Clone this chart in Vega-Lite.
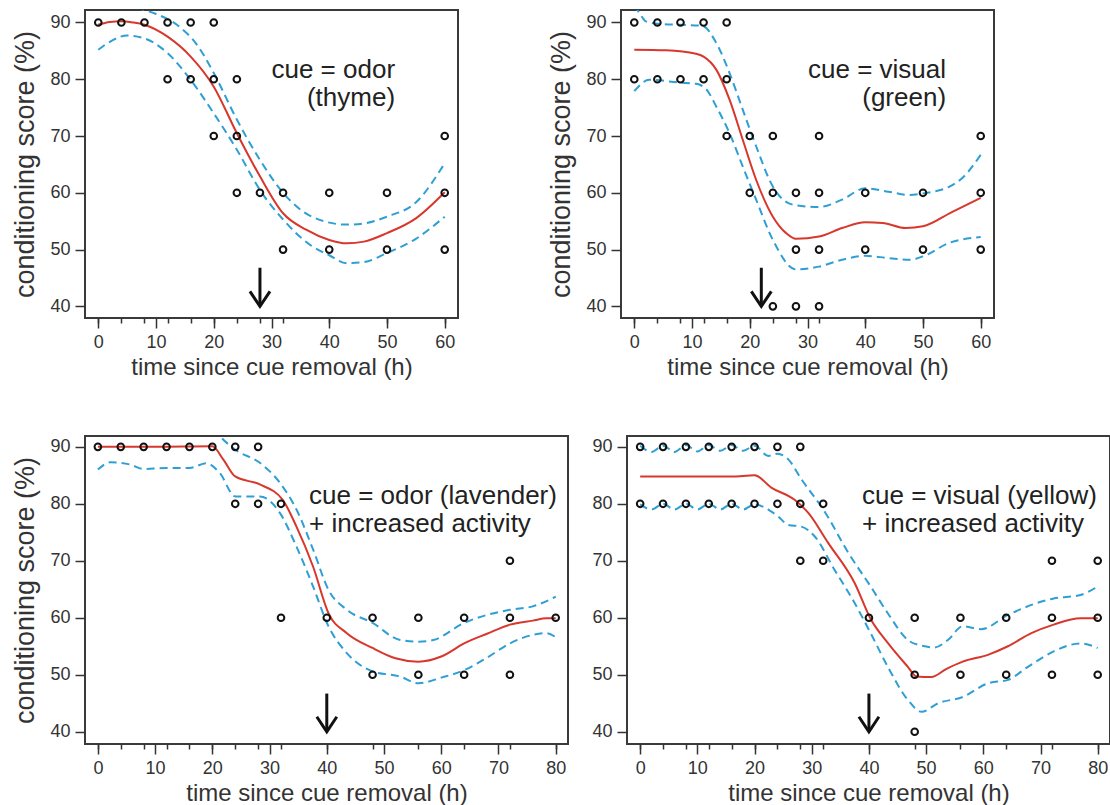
{
  "$schema": "https://vega.github.io/schema/vega-lite/v6.json",
  "padding": {"left": 10, "top": 9, "right": 0, "bottom": 0},
  "background": "white",
  "config": {
    "font": "Liberation Sans",
    "view": {"stroke": "#3a3a3a", "strokeWidth": 2},
    "axis": {"labelFont": "Liberation Sans", "titleFont": "Liberation Sans", "labelFontSize": 18, "labelColor": "#333", "titleFontWeight": "normal", "titleColor": "#333", "tickColor": "#333", "tickWidth": 1.5, "grid": false, "domain": false},
    "axisX": {"titleFontSize": 24, "titlePadding": 4, "labelPadding": 5, "labelFlush": false},
    "axisY": {"titleFontSize": 27, "titlePadding": 10, "labelPadding": 5}
  },
  "datasets": {
    "pts": [
      {"p":1,"t":0,"s":90},{"p":1,"t":4,"s":90},{"p":1,"t":8,"s":90},{"p":1,"t":12,"s":90},{"p":1,"t":16,"s":90},{"p":1,"t":20,"s":90},
      {"p":1,"t":12,"s":80},{"p":1,"t":16,"s":80},{"p":1,"t":20,"s":80},{"p":1,"t":24,"s":80},
      {"p":1,"t":20,"s":70},{"p":1,"t":24,"s":70},{"p":1,"t":60,"s":70},
      {"p":1,"t":24,"s":60},{"p":1,"t":28,"s":60},{"p":1,"t":32,"s":60},{"p":1,"t":40,"s":60},{"p":1,"t":50,"s":60},{"p":1,"t":60,"s":60},
      {"p":1,"t":32,"s":50},{"p":1,"t":40,"s":50},{"p":1,"t":50,"s":50},{"p":1,"t":60,"s":50},
      {"p":2,"t":0,"s":90},{"p":2,"t":4,"s":90},{"p":2,"t":8,"s":90},{"p":2,"t":12,"s":90},{"p":2,"t":16,"s":90},
      {"p":2,"t":0,"s":80},{"p":2,"t":4,"s":80},{"p":2,"t":8,"s":80},{"p":2,"t":12,"s":80},{"p":2,"t":16,"s":80},
      {"p":2,"t":16,"s":70},{"p":2,"t":20,"s":70},{"p":2,"t":24,"s":70},{"p":2,"t":32,"s":70},{"p":2,"t":60,"s":70},
      {"p":2,"t":20,"s":60},{"p":2,"t":24,"s":60},{"p":2,"t":28,"s":60},{"p":2,"t":32,"s":60},{"p":2,"t":40,"s":60},{"p":2,"t":50,"s":60},{"p":2,"t":60,"s":60},
      {"p":2,"t":28,"s":50},{"p":2,"t":32,"s":50},{"p":2,"t":40,"s":50},{"p":2,"t":50,"s":50},{"p":2,"t":60,"s":50},
      {"p":2,"t":24,"s":40},{"p":2,"t":28,"s":40},{"p":2,"t":32,"s":40},
      {"p":3,"t":0,"s":90},{"p":3,"t":4,"s":90},{"p":3,"t":8,"s":90},{"p":3,"t":12,"s":90},{"p":3,"t":16,"s":90},{"p":3,"t":20,"s":90},{"p":3,"t":24,"s":90},{"p":3,"t":28,"s":90},
      {"p":3,"t":24,"s":80},{"p":3,"t":28,"s":80},{"p":3,"t":32,"s":80},
      {"p":3,"t":72,"s":70},
      {"p":3,"t":32,"s":60},{"p":3,"t":40,"s":60},{"p":3,"t":48,"s":60},{"p":3,"t":56,"s":60},{"p":3,"t":64,"s":60},{"p":3,"t":72,"s":60},{"p":3,"t":80,"s":60},
      {"p":3,"t":48,"s":50},{"p":3,"t":56,"s":50},{"p":3,"t":64,"s":50},{"p":3,"t":72,"s":50},
      {"p":4,"t":0,"s":90},{"p":4,"t":4,"s":90},{"p":4,"t":8,"s":90},{"p":4,"t":12,"s":90},{"p":4,"t":16,"s":90},{"p":4,"t":20,"s":90},{"p":4,"t":24,"s":90},{"p":4,"t":28,"s":90},
      {"p":4,"t":0,"s":80},{"p":4,"t":4,"s":80},{"p":4,"t":8,"s":80},{"p":4,"t":12,"s":80},{"p":4,"t":16,"s":80},{"p":4,"t":20,"s":80},{"p":4,"t":24,"s":80},{"p":4,"t":28,"s":80},{"p":4,"t":32,"s":80},
      {"p":4,"t":28,"s":70},{"p":4,"t":32,"s":70},{"p":4,"t":72,"s":70},{"p":4,"t":80,"s":70},
      {"p":4,"t":40,"s":60},{"p":4,"t":48,"s":60},{"p":4,"t":56,"s":60},{"p":4,"t":64,"s":60},{"p":4,"t":72,"s":60},{"p":4,"t":80,"s":60},
      {"p":4,"t":48,"s":50},{"p":4,"t":56,"s":50},{"p":4,"t":64,"s":50},{"p":4,"t":72,"s":50},{"p":4,"t":80,"s":50},
      {"p":4,"t":48,"s":40}
    ],
    "crv": [
      {"p":1,"k":"fit","t":0,"s":89.6},{"p":1,"k":"fit","t":2,"s":90.1},{"p":1,"k":"fit","t":4,"s":90.2},{"p":1,"k":"fit","t":6,"s":90.0},{"p":1,"k":"fit","t":8,"s":89.6},{"p":1,"k":"fit","t":12,"s":87.5},{"p":1,"k":"fit","t":16,"s":84},{"p":1,"k":"fit","t":20,"s":78.7},{"p":1,"k":"fit","t":24,"s":70.5},{"p":1,"k":"fit","t":28,"s":62.9},{"p":1,"k":"fit","t":32,"s":56.4},{"p":1,"k":"fit","t":36,"s":53.5},{"p":1,"k":"fit","t":40,"s":51.7},{"p":1,"k":"fit","t":43,"s":51.1},{"p":1,"k":"fit","t":46,"s":51.4},{"p":1,"k":"fit","t":50,"s":52.9},{"p":1,"k":"fit","t":55,"s":55.5},{"p":1,"k":"fit","t":60,"s":60.1},
      {"p":1,"k":"upper","t":0,"s":94},{"p":1,"k":"upper","t":4,"s":93},{"p":1,"k":"upper","t":8,"s":92.2},{"p":1,"k":"upper","t":10,"s":91.5},{"p":1,"k":"upper","t":14,"s":89.3},{"p":1,"k":"upper","t":17,"s":86.2},{"p":1,"k":"upper","t":20,"s":81.1},{"p":1,"k":"upper","t":24,"s":72.9},{"p":1,"k":"upper","t":28,"s":65.8},{"p":1,"k":"upper","t":32,"s":60},{"p":1,"k":"upper","t":37,"s":55.8},{"p":1,"k":"upper","t":43,"s":54.4},{"p":1,"k":"upper","t":46,"s":54.6},{"p":1,"k":"upper","t":50,"s":55.8},{"p":1,"k":"upper","t":55,"s":58.3},{"p":1,"k":"upper","t":60,"s":65.2},
      {"p":1,"k":"lower","t":0,"s":85.2},{"p":1,"k":"lower","t":2,"s":86.6},{"p":1,"k":"lower","t":5,"s":87.7},{"p":1,"k":"lower","t":8,"s":87.2},{"p":1,"k":"lower","t":12,"s":84.6},{"p":1,"k":"lower","t":16,"s":79.9},{"p":1,"k":"lower","t":20,"s":74},{"p":1,"k":"lower","t":24,"s":67.6},{"p":1,"k":"lower","t":28,"s":60.5},{"p":1,"k":"lower","t":32,"s":55.3},{"p":1,"k":"lower","t":37,"s":50.6},{"p":1,"k":"lower","t":40,"s":49},{"p":1,"k":"lower","t":43,"s":47.6},{"p":1,"k":"lower","t":46,"s":47.8},{"p":1,"k":"lower","t":50,"s":49.4},{"p":1,"k":"lower","t":55,"s":51.9},{"p":1,"k":"lower","t":60,"s":55.8},
      {"p":2,"k":"fit","t":0,"s":85.2},{"p":2,"k":"fit","t":5.5,"s":85.1},{"p":2,"k":"fit","t":10.7,"s":84.5},{"p":2,"k":"fit","t":12,"s":84},{"p":2,"k":"fit","t":14.2,"s":81.7},{"p":2,"k":"fit","t":16.5,"s":76.4},{"p":2,"k":"fit","t":18.8,"s":69.3},{"p":2,"k":"fit","t":21.1,"s":62.3},{"p":2,"k":"fit","t":24,"s":55.8},{"p":2,"k":"fit","t":26.3,"s":52.9},{"p":2,"k":"fit","t":28,"s":51.9},{"p":2,"k":"fit","t":32,"s":52.3},{"p":2,"k":"fit","t":36,"s":53.8},{"p":2,"k":"fit","t":40,"s":54.8},{"p":2,"k":"fit","t":43,"s":54.7},{"p":2,"k":"fit","t":47,"s":53.8},{"p":2,"k":"fit","t":50,"s":54.1},{"p":2,"k":"fit","t":55,"s":56.6},{"p":2,"k":"fit","t":60,"s":59.1},
      {"p":2,"k":"upper","t":0,"s":93},{"p":2,"k":"upper","t":1,"s":91.5},{"p":2,"k":"upper","t":2,"s":90.2},{"p":2,"k":"upper","t":5,"s":89.7},{"p":2,"k":"upper","t":8,"s":89.6},{"p":2,"k":"upper","t":11.8,"s":89.4},{"p":2,"k":"upper","t":14.2,"s":86.4},{"p":2,"k":"upper","t":16.5,"s":81.1},{"p":2,"k":"upper","t":18.8,"s":74.6},{"p":2,"k":"upper","t":21.1,"s":68.2},{"p":2,"k":"upper","t":24,"s":61.1},{"p":2,"k":"upper","t":27.5,"s":57.9},{"p":2,"k":"upper","t":32,"s":57.5},{"p":2,"k":"upper","t":36,"s":58.8},{"p":2,"k":"upper","t":40,"s":60.8},{"p":2,"k":"upper","t":44,"s":60.2},{"p":2,"k":"upper","t":47.7,"s":59.6},{"p":2,"k":"upper","t":50,"s":59.9},{"p":2,"k":"upper","t":54.6,"s":61.1},{"p":2,"k":"upper","t":57,"s":62.8},{"p":2,"k":"upper","t":60,"s":66.7},
      {"p":2,"k":"lower","t":0,"s":77.9},{"p":2,"k":"lower","t":2.6,"s":79.9},{"p":2,"k":"lower","t":8,"s":79.4},{"p":2,"k":"lower","t":10.7,"s":79.2},{"p":2,"k":"lower","t":12.5,"s":78.2},{"p":2,"k":"lower","t":14.2,"s":75.2},{"p":2,"k":"lower","t":16.5,"s":70.5},{"p":2,"k":"lower","t":18.8,"s":64.6},{"p":2,"k":"lower","t":21.1,"s":58.8},{"p":2,"k":"lower","t":24,"s":51.7},{"p":2,"k":"lower","t":28,"s":46.5},{"p":2,"k":"lower","t":32,"s":47},{"p":2,"k":"lower","t":36,"s":48.2},{"p":2,"k":"lower","t":40,"s":48.9},{"p":2,"k":"lower","t":44,"s":48.5},{"p":2,"k":"lower","t":47.7,"s":48.2},{"p":2,"k":"lower","t":50,"s":48.8},{"p":2,"k":"lower","t":54.6,"s":51.2},{"p":2,"k":"lower","t":60,"s":52.2},
      {"p":3,"k":"fit","t":0,"s":90},{"p":3,"k":"fit","t":10,"s":90},{"p":3,"k":"fit","t":20,"s":90.1},{"p":3,"k":"fit","t":21.9,"s":87.8},{"p":3,"k":"fit","t":24,"s":84.8},{"p":3,"k":"fit","t":28.3,"s":83.4},{"p":3,"k":"fit","t":32.3,"s":80.7},{"p":3,"k":"fit","t":34.7,"s":76},{"p":3,"k":"fit","t":37.6,"s":69},{"p":3,"k":"fit","t":40.3,"s":60.8},{"p":3,"k":"fit","t":43.5,"s":57.3},{"p":3,"k":"fit","t":48,"s":54.7},{"p":3,"k":"fit","t":52,"s":52.9},{"p":3,"k":"fit","t":56,"s":52.3},{"p":3,"k":"fit","t":60,"s":53.2},{"p":3,"k":"fit","t":64,"s":55.5},{"p":3,"k":"fit","t":68,"s":57.2},{"p":3,"k":"fit","t":72,"s":58.8},{"p":3,"k":"fit","t":76,"s":59.5},{"p":3,"k":"fit","t":78.4,"s":59.9},{"p":3,"k":"fit","t":80,"s":59.9},
      {"p":3,"k":"upper","t":0,"s":94},{"p":3,"k":"upper","t":18,"s":94},{"p":3,"k":"upper","t":20,"s":93.5},{"p":3,"k":"upper","t":21.3,"s":91.9},{"p":3,"k":"upper","t":24,"s":89.5},{"p":3,"k":"upper","t":28.3,"s":87.2},{"p":3,"k":"upper","t":31.8,"s":83.7},{"p":3,"k":"upper","t":34.7,"s":79},{"p":3,"k":"upper","t":37.6,"s":72},{"p":3,"k":"upper","t":40.3,"s":64.9},{"p":3,"k":"upper","t":43.5,"s":61.4},{"p":3,"k":"upper","t":48,"s":59.1},{"p":3,"k":"upper","t":52.8,"s":56.1},{"p":3,"k":"upper","t":56,"s":55.8},{"p":3,"k":"upper","t":58.6,"s":56.1},{"p":3,"k":"upper","t":64,"s":59.1},{"p":3,"k":"upper","t":72,"s":61.4},{"p":3,"k":"upper","t":76,"s":62},{"p":3,"k":"upper","t":80,"s":63.7},
      {"p":3,"k":"lower","t":0,"s":86},{"p":3,"k":"lower","t":2.2,"s":87.3},{"p":3,"k":"lower","t":5.6,"s":86.9},{"p":3,"k":"lower","t":8,"s":86.1},{"p":3,"k":"lower","t":12,"s":86.3},{"p":3,"k":"lower","t":16,"s":86.3},{"p":3,"k":"lower","t":19,"s":87.1},{"p":3,"k":"lower","t":21.3,"s":85.4},{"p":3,"k":"lower","t":24,"s":81.3},{"p":3,"k":"lower","t":28.3,"s":81.3},{"p":3,"k":"lower","t":31.8,"s":78.4},{"p":3,"k":"lower","t":34.7,"s":72.5},{"p":3,"k":"lower","t":37.6,"s":65.5},{"p":3,"k":"lower","t":40.3,"s":58.5},{"p":3,"k":"lower","t":43.5,"s":53.8},{"p":3,"k":"lower","t":48,"s":50.6},{"p":3,"k":"lower","t":52.8,"s":49.7},{"p":3,"k":"lower","t":56,"s":48.5},{"p":3,"k":"lower","t":60,"s":49.5},{"p":3,"k":"lower","t":64,"s":50.8},{"p":3,"k":"lower","t":68,"s":53},{"p":3,"k":"lower","t":72,"s":55.5},{"p":3,"k":"lower","t":76,"s":57},{"p":3,"k":"lower","t":78.4,"s":57.3},{"p":3,"k":"lower","t":80,"s":56.6},
      {"p":4,"k":"fit","t":0,"s":84.8},{"p":4,"k":"fit","t":16,"s":84.8},{"p":4,"k":"fit","t":20,"s":85},{"p":4,"k":"fit","t":23,"s":82.8},{"p":4,"k":"fit","t":27,"s":80.7},{"p":4,"k":"fit","t":29.4,"s":78.4},{"p":4,"k":"fit","t":32.9,"s":73.1},{"p":4,"k":"fit","t":37.5,"s":66.1},{"p":4,"k":"fit","t":40.3,"s":59.8},{"p":4,"k":"fit","t":43.3,"s":55.6},{"p":4,"k":"fit","t":46.8,"s":51.4},{"p":4,"k":"fit","t":48.3,"s":49.7},{"p":4,"k":"fit","t":50.9,"s":49.6},{"p":4,"k":"fit","t":53.5,"s":51},{"p":4,"k":"fit","t":56.4,"s":52.3},{"p":4,"k":"fit","t":60.8,"s":53.5},{"p":4,"k":"fit","t":64.3,"s":55},{"p":4,"k":"fit","t":68.4,"s":57.3},{"p":4,"k":"fit","t":72.3,"s":58.8},{"p":4,"k":"fit","t":77,"s":59.9},{"p":4,"k":"fit","t":80,"s":59.9},
      {"p":4,"k":"upper","t":0,"s":90.2},{"p":4,"k":"upper","t":2,"s":89.1},{"p":4,"k":"upper","t":4,"s":90.2},{"p":4,"k":"upper","t":6,"s":89.1},{"p":4,"k":"upper","t":8,"s":90.3},{"p":4,"k":"upper","t":10,"s":89.2},{"p":4,"k":"upper","t":12,"s":90.3},{"p":4,"k":"upper","t":14,"s":89.3},{"p":4,"k":"upper","t":16,"s":90.3},{"p":4,"k":"upper","t":18,"s":89.3},{"p":4,"k":"upper","t":20,"s":90.2},{"p":4,"k":"upper","t":22.4,"s":88.4},{"p":4,"k":"upper","t":24,"s":88.8},{"p":4,"k":"upper","t":25.9,"s":87.8},{"p":4,"k":"upper","t":28.2,"s":84.3},{"p":4,"k":"upper","t":32.4,"s":78.4},{"p":4,"k":"upper","t":36.4,"s":71.4},{"p":4,"k":"upper","t":40.3,"s":65.5},{"p":4,"k":"upper","t":43.3,"s":60.8},{"p":4,"k":"upper","t":46.8,"s":56.1},{"p":4,"k":"upper","t":49.2,"s":55.1},{"p":4,"k":"upper","t":51.5,"s":54.8},{"p":4,"k":"upper","t":53.8,"s":56.1},{"p":4,"k":"upper","t":56.4,"s":58.5},{"p":4,"k":"upper","t":59.6,"s":58},{"p":4,"k":"upper","t":64.3,"s":60.5},{"p":4,"k":"upper","t":72.3,"s":63.4},{"p":4,"k":"upper","t":77,"s":64},{"p":4,"k":"upper","t":80,"s":65.5},
      {"p":4,"k":"lower","t":0,"s":79.9},{"p":4,"k":"lower","t":2,"s":79},{"p":4,"k":"lower","t":4,"s":80},{"p":4,"k":"lower","t":6,"s":79},{"p":4,"k":"lower","t":8,"s":80},{"p":4,"k":"lower","t":10,"s":79},{"p":4,"k":"lower","t":12,"s":80},{"p":4,"k":"lower","t":14,"s":79},{"p":4,"k":"lower","t":16,"s":80},{"p":4,"k":"lower","t":18,"s":79},{"p":4,"k":"lower","t":20,"s":79.9},{"p":4,"k":"lower","t":22.4,"s":79},{"p":4,"k":"lower","t":24.1,"s":77.8},{"p":4,"k":"lower","t":25.9,"s":76.3},{"p":4,"k":"lower","t":28.2,"s":76},{"p":4,"k":"lower","t":30.5,"s":74.3},{"p":4,"k":"lower","t":34,"s":68.4},{"p":4,"k":"lower","t":37.5,"s":62.6},{"p":4,"k":"lower","t":40.3,"s":57.3},{"p":4,"k":"lower","t":43.3,"s":51.4},{"p":4,"k":"lower","t":46.8,"s":45.6},{"p":4,"k":"lower","t":49.2,"s":43.5},{"p":4,"k":"lower","t":52.1,"s":45},{"p":4,"k":"lower","t":56.4,"s":46.1},{"p":4,"k":"lower","t":60.8,"s":48.5},{"p":4,"k":"lower","t":64.3,"s":49.1},{"p":4,"k":"lower","t":67.8,"s":51.4},{"p":4,"k":"lower","t":72.3,"s":54.1},{"p":4,"k":"lower","t":77,"s":55.5},{"p":4,"k":"lower","t":80,"s":54.7}
    ],
    "arr": [
      {"p":1,"t":28,"top":46.8,"tip":40.0},
      {"p":2,"t":22,"top":46.8,"tip":40.0},
      {"p":3,"t":40,"top":46.7,"tip":40.0},
      {"p":4,"t":40,"top":46.7,"tip":40.0}
    ],
    "txt": [
      {"p":1,"t":51.4,"s":80.2,"label":"cue = odor\n(thyme)"},
      {"p":2,"t":54.0,"s":80.2,"label":"cue = visual\n(green)"},
      {"p":3,"t":36.9,"s":79.9,"label":"cue = odor (lavender)\n+ increased activity"},
      {"p":4,"t":38.8,"s":79.9,"label":"cue = visual (yellow)\n+ increased activity"}
    ]
  },
  "spacing": 55,
  "vconcat": [
    {
      "spacing": 87,
      "hconcat": [
        {
          "width": 373, "height": 308,
          "resolve": {"axis": {"x": "independent"}},
          "layer": [
            {"data": {"name": "crv"}, "transform": [{"filter": "datum.p == 1 && datum.k != 'fit'"}],
             "mark": {"type": "line", "clip": true, "stroke": "#2e9fd4", "strokeWidth": 2, "strokeDash": [8, 5], "interpolate": "monotone"},
             "encoding": {"x": {"field": "t", "type": "quantitative", "scale": {"domain": [-2.3, 62.3], "nice": false, "zero": false}, "axis": null}, "y": {"field": "s", "type": "quantitative", "scale": {"domain": [37.95, 92.2], "nice": false, "zero": false}, "axis": {"values": [40, 50, 60, 70, 80, 90], "tickSize": 10, "title": "conditioning score (%)"}}, "detail": {"field": "k"}}},
            {"data": {"name": "crv"}, "transform": [{"filter": "datum.p == 1 && datum.k == 'fit'"}],
             "mark": {"type": "line", "clip": true, "stroke": "#d7372c", "strokeWidth": 2, "interpolate": "monotone"},
             "encoding": {"x": {"field": "t", "type": "quantitative", "axis": {"orient": "bottom", "values": [0, 4, 8, 12, 16, 20, 24, 28, 32, 40, 50, 60], "labels": false, "tickSize": 5, "title": null}}, "y": {"field": "s", "type": "quantitative"}}},
            {"data": {"name": "arr"}, "transform": [{"filter": "datum.p == 1"}],
             "mark": {"type": "rule", "stroke": "#111", "strokeWidth": 3},
             "encoding": {"x": {"field": "t", "type": "quantitative", "axis": null}, "y": {"field": "top", "type": "quantitative"}, "y2": {"field": "tip"}}},
            {"data": {"name": "arr"}, "transform": [{"filter": "datum.p == 1"}],
             "mark": {"type": "point", "shape": "M-1,-1.5L0,0L1,-1.5", "filled": false, "stroke": "#111", "strokeWidth": 3, "size": 400, "opacity": 1},
             "encoding": {"x": {"field": "t", "type": "quantitative", "axis": null}, "y": {"field": "tip", "type": "quantitative"}}},
            {"data": {"name": "txt"}, "transform": [{"filter": "datum.p == 1"}],
             "mark": {"type": "text", "align": "right", "baseline": "alphabetic", "fontSize": 26, "lineHeight": 28, "lineBreak": "\n", "color": "#222", "font": "Liberation Sans"},
             "encoding": {"x": {"field": "t", "type": "quantitative", "axis": null}, "y": {"field": "s", "type": "quantitative"}, "text": {"field": "label"}}},
            {"data": {"name": "pts"}, "transform": [{"filter": "datum.p == 1"}],
             "mark": {"type": "point", "shape": "circle", "filled": false, "stroke": "#111", "strokeWidth": 2, "size": 44, "opacity": 1},
             "encoding": {"x": {"field": "t", "type": "quantitative", "axis": {"orient": "bottom", "values": [0, 10, 20, 30, 40, 50, 60], "tickSize": 10, "title": "time since cue removal (h)"}}, "y": {"field": "s", "type": "quantitative"}}}
          ]
        },
        {
          "width": 373, "height": 308,
          "resolve": {"axis": {"x": "independent"}},
          "layer": [
            {"data": {"name": "crv"}, "transform": [{"filter": "datum.p == 2 && datum.k != 'fit'"}],
             "mark": {"type": "line", "clip": true, "stroke": "#2e9fd4", "strokeWidth": 2, "strokeDash": [8, 5], "interpolate": "monotone"},
             "encoding": {"x": {"field": "t", "type": "quantitative", "scale": {"domain": [-2.3, 62.3], "nice": false, "zero": false}, "axis": null}, "y": {"field": "s", "type": "quantitative", "scale": {"domain": [37.95, 92.2], "nice": false, "zero": false}, "axis": {"values": [40, 50, 60, 70, 80, 90], "tickSize": 10, "title": "conditioning score (%)"}}, "detail": {"field": "k"}}},
            {"data": {"name": "crv"}, "transform": [{"filter": "datum.p == 2 && datum.k == 'fit'"}],
             "mark": {"type": "line", "clip": true, "stroke": "#d7372c", "strokeWidth": 2, "interpolate": "monotone"},
             "encoding": {"x": {"field": "t", "type": "quantitative", "axis": {"orient": "bottom", "values": [0, 4, 8, 12, 16, 20, 24, 28, 32, 40, 50, 60], "labels": false, "tickSize": 5, "title": null}}, "y": {"field": "s", "type": "quantitative"}}},
            {"data": {"name": "arr"}, "transform": [{"filter": "datum.p == 2"}],
             "mark": {"type": "rule", "stroke": "#111", "strokeWidth": 3},
             "encoding": {"x": {"field": "t", "type": "quantitative", "axis": null}, "y": {"field": "top", "type": "quantitative"}, "y2": {"field": "tip"}}},
            {"data": {"name": "arr"}, "transform": [{"filter": "datum.p == 2"}],
             "mark": {"type": "point", "shape": "M-1,-1.5L0,0L1,-1.5", "filled": false, "stroke": "#111", "strokeWidth": 3, "size": 400, "opacity": 1},
             "encoding": {"x": {"field": "t", "type": "quantitative", "axis": null}, "y": {"field": "tip", "type": "quantitative"}}},
            {"data": {"name": "txt"}, "transform": [{"filter": "datum.p == 2"}],
             "mark": {"type": "text", "align": "right", "baseline": "alphabetic", "fontSize": 26, "lineHeight": 28, "lineBreak": "\n", "color": "#222", "font": "Liberation Sans"},
             "encoding": {"x": {"field": "t", "type": "quantitative", "axis": null}, "y": {"field": "s", "type": "quantitative"}, "text": {"field": "label"}}},
            {"data": {"name": "pts"}, "transform": [{"filter": "datum.p == 2"}],
             "mark": {"type": "point", "shape": "circle", "filled": false, "stroke": "#111", "strokeWidth": 2, "size": 44, "opacity": 1},
             "encoding": {"x": {"field": "t", "type": "quantitative", "axis": {"orient": "bottom", "values": [0, 10, 20, 30, 40, 50, 60], "tickSize": 10, "title": "time since cue removal (h)"}}, "y": {"field": "s", "type": "quantitative"}}}
          ]
        }
      ]
    },
    {
      "spacing": 21,
      "hconcat": [
        {
          "width": 483, "height": 308,
          "resolve": {"axis": {"x": "independent"}},
          "layer": [
            {"data": {"name": "crv"}, "transform": [{"filter": "datum.p == 3 && datum.k != 'fit'"}],
             "mark": {"type": "line", "clip": true, "stroke": "#2e9fd4", "strokeWidth": 2, "strokeDash": [8, 5], "interpolate": "monotone"},
             "encoding": {"x": {"field": "t", "type": "quantitative", "scale": {"domain": [-2.25, 82.15], "nice": false, "zero": false}, "axis": null}, "y": {"field": "s", "type": "quantitative", "scale": {"domain": [37.85, 91.9], "nice": false, "zero": false}, "axis": {"values": [40, 50, 60, 70, 80, 90], "tickSize": 10, "title": "conditioning score (%)"}}, "detail": {"field": "k"}}},
            {"data": {"name": "crv"}, "transform": [{"filter": "datum.p == 3 && datum.k == 'fit'"}],
             "mark": {"type": "line", "clip": true, "stroke": "#d7372c", "strokeWidth": 2, "interpolate": "monotone"},
             "encoding": {"x": {"field": "t", "type": "quantitative", "axis": {"orient": "bottom", "values": [0, 4, 8, 12, 16, 20, 24, 28, 32, 40, 48, 56, 64, 72, 80], "labels": false, "tickSize": 5, "title": null}}, "y": {"field": "s", "type": "quantitative"}}},
            {"data": {"name": "arr"}, "transform": [{"filter": "datum.p == 3"}],
             "mark": {"type": "rule", "stroke": "#111", "strokeWidth": 3},
             "encoding": {"x": {"field": "t", "type": "quantitative", "axis": null}, "y": {"field": "top", "type": "quantitative"}, "y2": {"field": "tip"}}},
            {"data": {"name": "arr"}, "transform": [{"filter": "datum.p == 3"}],
             "mark": {"type": "point", "shape": "M-1,-1.5L0,0L1,-1.5", "filled": false, "stroke": "#111", "strokeWidth": 3, "size": 400, "opacity": 1},
             "encoding": {"x": {"field": "t", "type": "quantitative", "axis": null}, "y": {"field": "tip", "type": "quantitative"}}},
            {"data": {"name": "txt"}, "transform": [{"filter": "datum.p == 3"}],
             "mark": {"type": "text", "align": "left", "baseline": "alphabetic", "fontSize": 26, "lineHeight": 28, "lineBreak": "\n", "color": "#222", "font": "Liberation Sans"},
             "encoding": {"x": {"field": "t", "type": "quantitative", "axis": null}, "y": {"field": "s", "type": "quantitative"}, "text": {"field": "label"}}},
            {"data": {"name": "pts"}, "transform": [{"filter": "datum.p == 3"}],
             "mark": {"type": "point", "shape": "circle", "filled": false, "stroke": "#111", "strokeWidth": 2, "size": 44, "opacity": 1},
             "encoding": {"x": {"field": "t", "type": "quantitative", "axis": {"orient": "bottom", "values": [0, 10, 20, 30, 40, 50, 60, 70, 80], "tickSize": 10, "title": "time since cue removal (h)"}}, "y": {"field": "s", "type": "quantitative"}}}
          ]
        },
        {
          "width": 483, "height": 308,
          "resolve": {"axis": {"x": "independent"}},
          "layer": [
            {"data": {"name": "crv"}, "transform": [{"filter": "datum.p == 4 && datum.k != 'fit'"}],
             "mark": {"type": "line", "clip": true, "stroke": "#2e9fd4", "strokeWidth": 2, "strokeDash": [8, 5], "interpolate": "monotone"},
             "encoding": {"x": {"field": "t", "type": "quantitative", "scale": {"domain": [-2.3, 82.15], "nice": false, "zero": false}, "axis": null}, "y": {"field": "s", "type": "quantitative", "scale": {"domain": [37.85, 91.9], "nice": false, "zero": false}, "axis": {"values": [40, 50, 60, 70, 80, 90], "tickSize": 10, "title": null}}, "detail": {"field": "k"}}},
            {"data": {"name": "crv"}, "transform": [{"filter": "datum.p == 4 && datum.k == 'fit'"}],
             "mark": {"type": "line", "clip": true, "stroke": "#d7372c", "strokeWidth": 2, "interpolate": "monotone"},
             "encoding": {"x": {"field": "t", "type": "quantitative", "axis": {"orient": "bottom", "values": [0, 4, 8, 12, 16, 20, 24, 28, 32, 40, 48, 56, 64, 72, 80], "labels": false, "tickSize": 5, "title": null}}, "y": {"field": "s", "type": "quantitative"}}},
            {"data": {"name": "arr"}, "transform": [{"filter": "datum.p == 4"}],
             "mark": {"type": "rule", "stroke": "#111", "strokeWidth": 3},
             "encoding": {"x": {"field": "t", "type": "quantitative", "axis": null}, "y": {"field": "top", "type": "quantitative"}, "y2": {"field": "tip"}}},
            {"data": {"name": "arr"}, "transform": [{"filter": "datum.p == 4"}],
             "mark": {"type": "point", "shape": "M-1,-1.5L0,0L1,-1.5", "filled": false, "stroke": "#111", "strokeWidth": 3, "size": 400, "opacity": 1},
             "encoding": {"x": {"field": "t", "type": "quantitative", "axis": null}, "y": {"field": "tip", "type": "quantitative"}}},
            {"data": {"name": "txt"}, "transform": [{"filter": "datum.p == 4"}],
             "mark": {"type": "text", "align": "left", "baseline": "alphabetic", "fontSize": 26, "lineHeight": 28, "lineBreak": "\n", "color": "#222", "font": "Liberation Sans"},
             "encoding": {"x": {"field": "t", "type": "quantitative", "axis": null}, "y": {"field": "s", "type": "quantitative"}, "text": {"field": "label"}}},
            {"data": {"name": "pts"}, "transform": [{"filter": "datum.p == 4"}],
             "mark": {"type": "point", "shape": "circle", "filled": false, "stroke": "#111", "strokeWidth": 2, "size": 44, "opacity": 1},
             "encoding": {"x": {"field": "t", "type": "quantitative", "axis": {"orient": "bottom", "values": [0, 10, 20, 30, 40, 50, 60, 70, 80], "tickSize": 10, "title": "time since cue removal (h)"}}, "y": {"field": "s", "type": "quantitative"}}}
          ]
        }
      ]
    }
  ]
}
